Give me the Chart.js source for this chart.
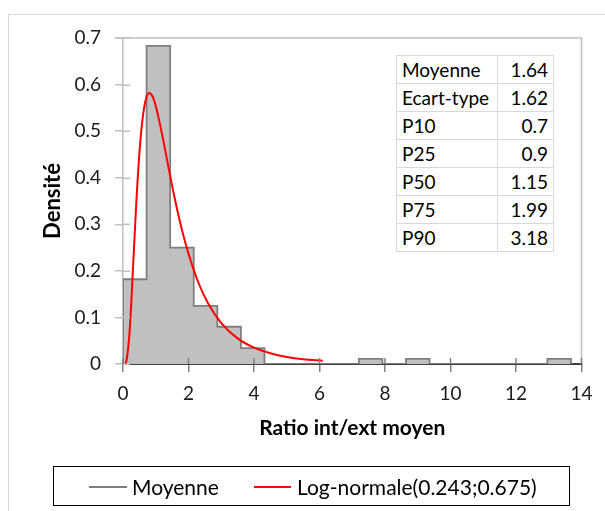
<!DOCTYPE html>
<html><head><meta charset="utf-8">
<script src="https://cdn.jsdelivr.net/npm/chart.js@4/dist/chart.umd.min.js"></script>
<style>
html,body{margin:0;padding:0;background:#fff;}
#wrap{position:relative;width:605px;height:511px;overflow:hidden;font-family:Lato, "Open Sans", sans-serif;color:#000;}
#frame{position:absolute;left:8px;top:14px;width:700px;height:600px;border-left:1.5px solid #d9d9d9;border-top:1.5px solid #d9d9d9;}
#c{position:absolute;left:0;top:0;}
#stats{position:absolute;left:396px;top:55px;border-collapse:collapse;table-layout:fixed;font-size:19px;background:#fff;}
#stats td{border:1px solid #d9d9d9;height:27px;padding:0 5px;line-height:27px;white-space:nowrap;}
#stats td.v{text-align:right;}
#legend{position:absolute;left:53px;top:466px;width:515px;height:38px;border:1.5px solid #000;background:#fff;}
.ln{position:absolute;height:2px;top:19px;}
.lt{position:absolute;top:0;line-height:40px;font-size:21px;white-space:nowrap;}
</style>
</head><body>
<div id="wrap">
  <div id="frame"></div>
  <canvas id="c" width="605" height="511"></canvas>
  <table id="stats"><colgroup><col style="width:101px"><col style="width:56px"></colgroup><tbody></tbody></table>
  <div id="legend"></div>
</div>
<script>
// ---- data ----
const binStarts = [0, 0.72, 1.44, 2.16, 2.88, 3.6, 7.2, 8.64, 12.96];
const binWidth = 0.72;
const densities = [0.182, 0.683, 0.250, 0.125, 0.080, 0.034, 0.011, 0.011, 0.011];
const curveX = [0.06, 0.1, 0.2, 0.3, 0.4, 0.5, 0.6, 0.7, 0.8, 0.9, 1.0, 1.2, 1.4, 1.6, 1.8, 2.0, 2.3, 2.6, 3.0, 3.5, 4.0, 4.5, 5.0, 5.5, 6.1];
const curveY = [0, 0.005, 0.068, 0.198, 0.338, 0.452, 0.528, 0.569, 0.582, 0.575, 0.554, 0.491, 0.418, 0.349, 0.288, 0.237, 0.175, 0.130, 0.088, 0.055, 0.035, 0.023, 0.015, 0.010, 0.007];
const xTicks = [0, 2, 4, 6, 8, 10, 12, 14];
const yTicks = [0, 0.1, 0.2, 0.3, 0.4, 0.5, 0.6, 0.7];
const seriesNames = ['Moyenne', 'Log-normale(0.243;0.675)'];
const statLabels = ['Moyenne', 'Ecart-type', 'P10', 'P25', 'P50', 'P75', 'P90'];
const statValues = ['1.64', '1.62', '0.7', '0.9', '1.15', '1.99', '3.18'];
const xTitle = 'Ratio int/ext moyen';
const yTitle = 'Densité';

// ---- build histogram outline points from bins ----
const histPts = [];
const eps = 1e-6;
binStarts.forEach((s, i) => {
  const e = s + binWidth;
  const last = histPts[histPts.length - 1];
  if (!last || last.x < s - eps) histPts.push({x: s, y: 0});
  histPts.push({x: s, y: densities[i]});
  histPts.push({x: e, y: densities[i]});
  const next = binStarts[i + 1];
  if (next === undefined || next > e + eps) histPts.push({x: e, y: 0});
});
const curvePts = curveX.map((x, i) => ({x, y: curveY[i]}));

const COLORS = {histFill: '#c0c0c0', histLine: '#7f7f7f', curve: '#ff0000'};

// ---- stats table ----
const tb = document.querySelector('#stats tbody');
statLabels.forEach((l, i) => {
  const tr = document.createElement('tr');
  tr.innerHTML = '<td>' + l + '</td><td class="v">' + statValues[i] + '</td>';
  tb.appendChild(tr);
});

// ---- legend ----
const lg = document.getElementById('legend');
const legendItems = [
  {name: seriesNames[0], color: COLORS.histLine, line: 35, w: 38, text: 78},
  {name: seriesNames[1], color: COLORS.curve, line: 200, w: 37, text: 243}
];
legendItems.forEach(it => {
  const l = document.createElement('div');
  l.className = 'ln'; l.style.left = it.line + 'px'; l.style.width = it.w + 'px'; l.style.background = it.color;
  const t = document.createElement('div');
  t.className = 'lt'; t.style.left = it.text + 'px'; t.textContent = it.name;
  lg.appendChild(l); lg.appendChild(t);
});

// ---- plugin: plot frame + inner tick stubs ----
const framePlugin = {
  id: 'frame',
  afterDraw(chart) {
    const {ctx, chartArea: a, scales: {x, y}} = chart;
    ctx.save();
    ctx.strokeStyle = '#bfbfbf';
    ctx.lineWidth = 1.5;
    ctx.beginPath();
    ctx.moveTo(a.left - 8, a.top); ctx.lineTo(a.right, a.top); ctx.lineTo(a.right, a.bottom);
    ctx.stroke();
    ctx.beginPath();
    yTicks.forEach(v => { const p = Math.round(y.getPixelForValue(v)) + 0.25; ctx.moveTo(a.left, p); ctx.lineTo(a.left + 7, p); });
    ctx.stroke();
    ctx.strokeStyle = '#808080';
    ctx.beginPath();
    xTicks.forEach(v => { const p = x.getPixelForValue(v); ctx.moveTo(p, a.bottom); ctx.lineTo(p, a.bottom - 6); });
    ctx.stroke();
    ctx.restore();
  }
};

new Chart(document.getElementById('c'), {
  type: 'line',
  data: {
    datasets: [
      {label: seriesNames[1], data: curvePts, borderColor: COLORS.curve, borderWidth: 2, pointRadius: 0, fill: false, cubicInterpolationMode: 'monotone', order: 1},
      {label: seriesNames[0], data: histPts, borderColor: COLORS.histLine, backgroundColor: COLORS.histFill, borderWidth: 1.8, pointRadius: 0, fill: 'origin', tension: 0, order: 2}
    ]
  },
  options: {
    responsive: false, animation: false, devicePixelRatio: 1,
    layout: {padding: {left: 0, top: 38, right: 23.5, bottom: 67}},
    plugins: {legend: {display: false}, tooltip: {enabled: false}},
    scales: {
      x: {
        type: 'linear', min: 0, max: 14, z: 1,
        afterFit: s => { s.height = 80; },
        afterBuildTicks: s => { s.ticks = xTicks.map(v => ({value: v})); },
        border: {color: '#404040', width: 2},
        grid: {drawOnChartArea: false, tickLength: 8, color: '#808080', lineWidth: 1.5},
        ticks: {padding: 10, color: '#1a1a1a', font: {family: 'Lato', size: 19}, callback: v => String(v)},
        title: {display: true, text: xTitle, color: '#000', font: {family: 'Lato', size: 21, weight: 'bold', lineHeight: 1.2}, padding: {top: 0, bottom: 3}}
      },
      y: {
        type: 'linear', min: 0, max: 0.7,
        afterFit: s => { s.width = 123; },
        afterBuildTicks: s => { s.ticks = yTicks.map(v => ({value: v})); },
        border: {color: '#bfbfbf', width: 1.5},
        grid: {drawOnChartArea: false, tickLength: 8, color: '#bfbfbf', lineWidth: 1.5},
        ticks: {padding: 14, color: '#1a1a1a', font: {family: 'Lato', size: 19}, callback: v => (v === 0 ? '0' : v.toFixed(1))},
        title: {display: true, text: yTitle, color: '#000', font: {family: 'Lato', size: 22, weight: 'bold', lineHeight: 1.2}, padding: {top: 40, bottom: 0}}
      }
    }
  },
  plugins: [framePlugin]
});
</script>
</body></html>
